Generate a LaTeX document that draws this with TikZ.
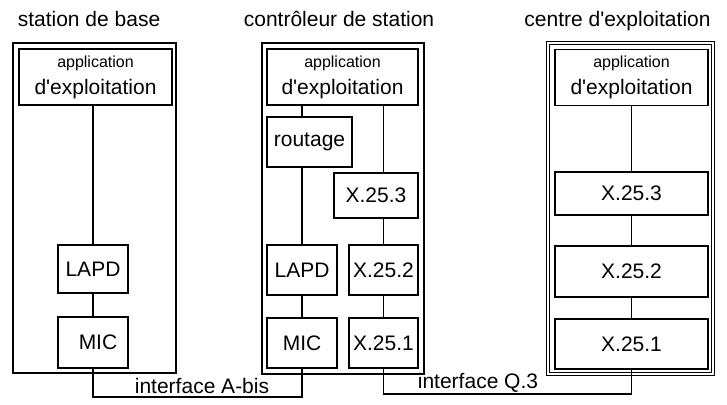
\documentclass[tikz,border=0pt]{standalone}
\usepackage{fontspec}
\setmainfont{Liberation Sans}
\usetikzlibrary{positioning,calc}
\newcommand{\appexpl}{{\fontsize{8}{9}\selectfont application}\\d\textquotesingle exploitation}
\tikzset{
  cadre/.style={draw, line width=1.1pt, inner sep=0pt},
  cadredouble/.style={draw, double, double distance=0.8pt, line width=0.5pt, inner sep=0pt},
  couche/.style={draw, line width=0.85pt, inner sep=0pt, align=center,
                 font=\fontsize{10.5}{13.5}\selectfont},
  appli/.style={couche, minimum width=76.5pt, minimum height=28pt},
  titre/.style={anchor=base, font=\fontsize{10.5}{12}\selectfont},
  lien/.style={line width=0.8pt},
  iface/.style={font=\fontsize{10.5}{12}\selectfont},
}

\begin{document}
\begin{tikzpicture}[x=0.5pt, y=-0.5pt]
\useasboundingbox (0,0) rectangle (727,405);

% ============================ station de base =========================
\node[titre] (tBase) at (89,27) {station de base};
\node[cadre, minimum width=81.5pt, minimum height=165pt] (fBase) at (94.5,208) {};
\node[appli] (appBase) at (95.5,77) {\appexpl};
\node[couche, minimum width=35pt, minimum height=24pt] (lapdBase) at (93,269) {LAPD};
\node[couche, minimum width=35pt, minimum height=25.5pt] (micBase) at (93,342.5) {\hspace*{5pt}MIC};

\draw[lien] (lapdBase.north |- appBase.south) -- (lapdBase.north);
\draw[lien] (lapdBase) -- (micBase);

% ============================ controleur de station ===================
\node[titre] (tCtrl) at (339,27) {contrôleur de station};
\node[cadre, minimum width=81pt, minimum height=165.5pt] (fCtrl) at (343,208.5) {};
\node[appli, minimum width=75.5pt] (appCtrl) at (342.5,77) {\appexpl};
\node[couche, minimum width=42.5pt, minimum height=25pt] (routCtrl) at (309.5,142) {routage};
\node[couche, minimum width=42pt, minimum height=22.5pt] (x3Ctrl) at (376,195.5) {X.25.3};
\node[couche, minimum width=35pt, minimum height=25pt] (lapdCtrl) at (302,270) {LAPD};
\node[couche, minimum width=34.5pt, minimum height=25pt] (x2Ctrl) at (383.5,270) {X.25.2};
\node[couche, minimum width=35pt, minimum height=25pt] (micCtrl) at (302,343) {MIC};
\node[couche, minimum width=34.5pt, minimum height=25pt] (x1Ctrl) at (383.5,343) {X.25.1};

% branche LAPD / MIC
\draw[lien] (lapdCtrl.north |- appCtrl.south) -- (lapdCtrl.north |- routCtrl.north);
\draw[lien] (lapdCtrl.north |- routCtrl.south) -- (lapdCtrl.north);
\draw[lien] (lapdCtrl) -- (micCtrl);
% branche X.25
\draw[lien] (x2Ctrl.north |- appCtrl.south) -- (x2Ctrl.north |- x3Ctrl.north);
\draw[lien] (x2Ctrl.north |- x3Ctrl.south) -- (x2Ctrl.north);
\draw[lien] (x2Ctrl) -- (x1Ctrl);

% ============================ centre d'exploitation ===================
\node[titre] (tCentre) at (617.5,27) {centre d\textquotesingle exploitation};
\node[cadredouble, minimum width=82.5pt, minimum height=165.5pt] (fCentre) at (630.5,208.5) {};
\node[appli] (appCentre) at (631.5,77.5) {\appexpl};
\node[couche, minimum width=76.5pt, minimum height=21.5pt] (x3Centre) at (631.5,193.5) {X.25.3};
\node[couche, minimum width=76.5pt, minimum height=25.5pt] (x2Centre) at (631.5,271.5) {X.25.2};
\node[couche, minimum width=76.5pt, minimum height=25pt] (x1Centre) at (631.5,344) {X.25.1};

\draw[lien] (appCentre) -- (x3Centre);
\draw[lien] (x3Centre) -- (x2Centre);
\draw[lien] (x2Centre) -- (x1Centre);

% ============================ interfaces ==============================
\coordinate (yAbis) at (0,397);
\coordinate (yQtrois) at (0,394);
\draw[lien] (micBase.south) -- (micBase.south |- yAbis) -| (micCtrl.south);
\draw[lien] (x1Ctrl.south) -- (x1Ctrl.south |- yQtrois) -| (x1Centre.south);
\node[iface] (lAbis) at (202,386) {interface A-bis};
\node[iface] (lQtrois) at (478,383) {interface Q.3};

\end{tikzpicture}
\end{document}
